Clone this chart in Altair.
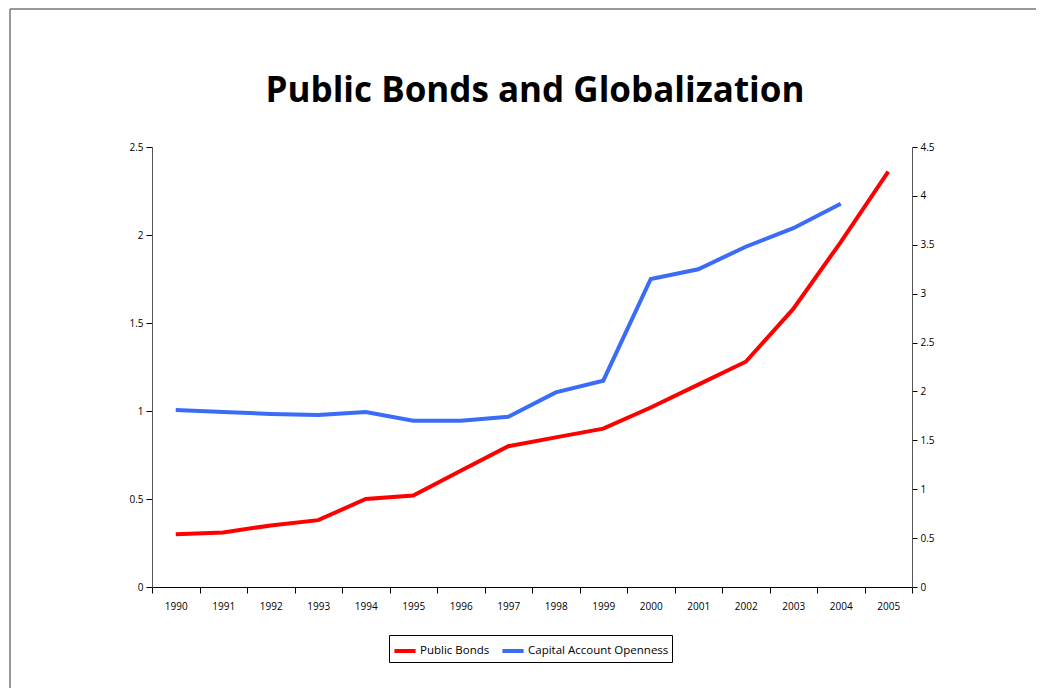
import altair as alt
import pandas as pd

years = [str(y) for y in range(1990, 2006)]
public_bonds = [0.30, 0.31, 0.35, 0.38, 0.50, 0.52, 0.66, 0.80, 0.85, 0.90,
                1.02, 1.15, 1.28, 1.58, 1.96, 2.36]
cap_open_years = [str(y) for y in range(1990, 2005)]
capital_openness = [1.81, 1.79, 1.77, 1.76, 1.79, 1.70, 1.70, 1.74, 1.99, 2.11,
                    3.15, 3.25, 3.48, 3.67, 3.92]
series_names = ["Public Bonds", "Capital Account Openness"]
series_colors = ["#ff0000", "#3a6cf8"]
left_ticks = [0, 0.5, 1, 1.5, 2, 2.5]
right_ticks = [0, 0.5, 1, 1.5, 2, 2.5, 3, 3.5, 4, 4.5]
title_text = "Public Bonds and Globalization"

df_pb = pd.DataFrame({"year": years, "value": public_bonds, "series": series_names[0]})
df_co = pd.DataFrame({"year": cap_open_years, "value": capital_openness, "series": series_names[1]})

FONT = "Open Sans"

x_enc = alt.X("year:O", scale=alt.Scale(domain=years, paddingInner=0, paddingOuter=0),
              axis=alt.Axis(title=None, labelAngle=0, tickBand="extent", labelFontSize=10,
                            labelPadding=8, tickSize=6, domainColor="#000", tickColor="#000",
                            labelColor="#000", labelFont=FONT))
color_enc = alt.Color("series:N",
                      scale=alt.Scale(domain=series_names, range=series_colors),
                      legend=alt.Legend(title=None, orient="none", direction="horizontal",
                                        legendX=237, legendY=488, symbolType="stroke",
                                        symbolStrokeWidth=4, symbolSize=450,
                                        labelFontSize=11.5, labelFont=FONT, labelColor="#000",
                                        strokeColor="#000", padding=3, columnPadding=4,
                                        symbolOffset=0, labelOffset=2))

left = alt.Chart(df_pb).mark_line(strokeWidth=4).encode(
    x=x_enc,
    y=alt.Y("value:Q", scale=alt.Scale(domain=[0, 2.5], nice=False),
            axis=alt.Axis(title=None, values=left_ticks, grid=False, orient="left", format="~g",
                          labelFontSize=10, tickSize=6, domainColor="#555", tickColor="#000",
                          labelColor="#000", labelFont=FONT, labelPadding=3)),
    color=color_enc,
)

right = alt.Chart(df_co).mark_line(strokeWidth=4).encode(
    x=x_enc,
    y=alt.Y("value:Q", scale=alt.Scale(domain=[0, 4.5], nice=False),
            axis=alt.Axis(title=None, values=right_ticks, grid=False, orient="right", format="~g",
                          labelFontSize=10, tickSize=5, domainColor="#555", tickColor="#000",
                          labelColor="#000", labelFont=FONT, labelPadding=3)),
    color=color_enc,
)

deco_df = pd.DataFrame({"title": [title_text]})
frame_left = alt.Chart(deco_df).mark_rule(color="#777", strokeWidth=1.5).encode(
    x=alt.value(-142), y=alt.value(-138), y2=alt.value(560))
frame_top = alt.Chart(deco_df).mark_rule(color="#777", strokeWidth=1.5).encode(
    x=alt.value(-142), x2=alt.value(900), y=alt.value(-138))
title = alt.Chart(deco_df).mark_text(font=FONT, fontSize=35, fontWeight="bold", color="#000",
                                     align="center", baseline="alphabetic").encode(
    text="title:N", x=alt.value(383), y=alt.value(-45))

chart = alt.layer(left, right, frame_left, frame_top, title).resolve_scale(
    y="independent", color="shared"
).properties(
    width=760, height=440,
    background="white",
    autosize=alt.AutoSizeParams(type="none"),
    padding={"left": 144, "top": 139, "right": 124, "bottom": 101},
).configure_view(stroke=None)

chart.save("out.html", embed_options={"renderer": "svg", "actions": False})
